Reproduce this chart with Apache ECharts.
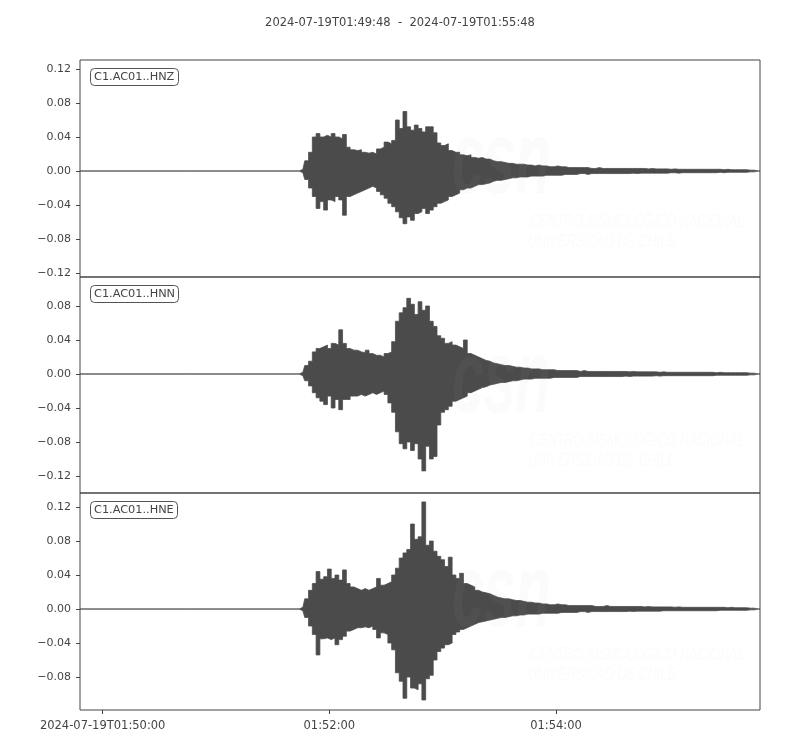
<!DOCTYPE html>
<html><head><meta charset="utf-8">
<script src="https://cdn.jsdelivr.net/npm/echarts@6/dist/echarts.min.js"></script>
<style>html,body{margin:0;padding:0;background:#fff}#c{width:800px;height:750px}</style>
</head><body><div id="c"></div>
<script>
// ---- text / axes ----
const titleText = '2024-07-19T01:49:48  -  2024-07-19T01:55:48';
const channels = ['C1.AC01..HNZ', 'C1.AC01..HNN', 'C1.AC01..HNE'];
const windowSeconds = 360;           // 01:49:48 -> 01:55:48
const binStart = 116, binStep = 2;   // envelope bins (seconds from window start)
const xTickSeconds = [12, 132, 252];
const xTickLabels = ['2024-07-19T01:50:00', '01:52:00', '01:54:00'];
const yTicksHNZ = [-0.12, -0.08, -0.04, 0, 0.04, 0.08, 0.12];
const yTicksHNN = [-0.12, -0.08, -0.04, 0, 0.04, 0.08];
const yTicksHNE = [-0.08, -0.04, 0, 0.04, 0.08, 0.12];
const yRangeHNZ = [-0.1247, 0.1306];
const yRangeHNN = [-0.1400, 0.1141];
const yRangeHNE = [-0.1188, 0.1365];

// ---- waveform envelopes (max / min per 2 s bin) ----
const hnzUpper = [0,
 0.002,0.012,0.022,0.040,0.044,0.040,0.042,0.040,0.044,0.040,0.038,0.043,
 0.028,0.025,0.024,0.025,0.022,0.021,0.022,0.020,0.026,0.028,0.034,0.032,
 0.036,0.060,0.050,0.070,0.052,0.048,0.054,0.050,0.046,0.052,0.052,0.045,
 0.033,0.030,0.032,0.024,0.022,0.022,0.019,0.018,0.019,0.016,0.015,0.016,
 0.014,0.014,0.012,0.011,0.011,0.010,0.009,0.009,0.008,0.008,0.008,0.007,
 0.007,0.006,0.007,0.006,0.006,0.005,0.005,0.006,0.005,0.005,0.004,0.004,
 0.004,0.004,0.004,0.004,0.003,0.003,0.004,0.003,0.003,0.003,0.003,0.003,
 0.003,0.003,0.003,0.003,0.003,0.003,0.003,0.0025,0.003,0.0025,0.0025,0.0025,
 0.0025,0.002,0.0025,0.002,0.002,0.002,0.002,0.002,0.002,0.002,0.002,0.002,
 0.002,0.002,0.002,0.0015,0.002,0.0015,0.0015,0.0015,0.0015,0.0015,0.001,0.001,
 0];
const hnzLower = [0,
 -0.002,-0.010,-0.020,-0.030,-0.044,-0.036,-0.046,-0.034,-0.036,-0.030,-0.034,-0.052,
 -0.030,-0.028,-0.026,-0.024,-0.022,-0.020,-0.018,-0.020,-0.024,-0.028,-0.032,-0.038,
 -0.042,-0.048,-0.055,-0.062,-0.054,-0.058,-0.050,-0.048,-0.044,-0.050,-0.046,-0.042,
 -0.038,-0.036,-0.034,-0.030,-0.028,-0.026,-0.022,-0.020,-0.020,-0.018,-0.016,-0.016,
 -0.015,-0.014,-0.012,-0.011,-0.011,-0.010,-0.009,-0.008,-0.008,-0.007,-0.007,-0.007,
 -0.006,-0.006,-0.006,-0.006,-0.005,-0.005,-0.005,-0.005,-0.005,-0.004,-0.004,-0.004,
 -0.004,-0.003,-0.003,-0.004,-0.003,-0.003,-0.003,-0.003,-0.003,-0.003,-0.003,-0.003,
 -0.003,-0.003,-0.003,-0.0025,-0.003,-0.0025,-0.0025,-0.0025,-0.0025,-0.0025,-0.0025,-0.0025,
 -0.0025,-0.002,-0.002,-0.0025,-0.002,-0.002,-0.002,-0.002,-0.002,-0.002,-0.002,-0.002,
 -0.002,-0.002,-0.0015,-0.002,-0.0015,-0.0015,-0.0015,-0.0015,-0.0015,-0.0015,-0.001,-0.001,
 0];
const hnnUpper = [0,
 0.002,0.010,0.015,0.026,0.030,0.032,0.034,0.030,0.036,0.034,0.052,0.036,
 0.030,0.028,0.028,0.026,0.025,0.028,0.024,0.022,0.022,0.020,0.024,0.026,
 0.038,0.062,0.072,0.078,0.089,0.082,0.070,0.085,0.075,0.080,0.062,0.056,
 0.045,0.042,0.036,0.038,0.034,0.032,0.030,0.040,0.024,0.022,0.020,0.018,
 0.016,0.015,0.013,0.012,0.011,0.010,0.010,0.009,0.008,0.008,0.007,0.007,
 0.006,0.006,0.006,0.005,0.005,0.005,0.005,0.004,0.004,0.004,0.004,0.004,
 0.004,0.003,0.004,0.003,0.003,0.003,0.003,0.003,0.003,0.003,0.003,0.003,
 0.003,0.003,0.0025,0.003,0.0025,0.0025,0.0025,0.0025,0.0025,0.0025,0.002,0.0025,
 0.002,0.002,0.002,0.002,0.002,0.002,0.002,0.002,0.002,0.002,0.002,0.002,
 0.002,0.0015,0.002,0.0015,0.0015,0.0015,0.0015,0.0015,0.0015,0.0015,0.001,0.001,
 0];
const hnnLower = [0,
 -0.002,-0.008,-0.014,-0.022,-0.028,-0.032,-0.036,-0.026,-0.040,-0.030,-0.042,-0.030,
 -0.030,-0.026,-0.026,-0.024,-0.026,-0.024,-0.022,-0.024,-0.022,-0.020,-0.024,-0.034,
 -0.045,-0.068,-0.082,-0.088,-0.080,-0.090,-0.082,-0.100,-0.114,-0.085,-0.100,-0.097,
 -0.060,-0.045,-0.042,-0.038,-0.032,-0.030,-0.028,-0.026,-0.022,-0.020,-0.018,-0.016,
 -0.015,-0.013,-0.012,-0.011,-0.010,-0.010,-0.009,-0.008,-0.008,-0.007,-0.006,-0.006,
 -0.006,-0.005,-0.005,-0.005,-0.005,-0.005,-0.004,-0.004,-0.004,-0.004,-0.004,-0.004,
 -0.004,-0.003,-0.003,-0.003,-0.003,-0.003,-0.003,-0.003,-0.003,-0.003,-0.003,-0.003,
 -0.003,-0.0025,-0.003,-0.0025,-0.0025,-0.0025,-0.0025,-0.0025,-0.0025,-0.002,-0.0025,-0.002,
 -0.002,-0.002,-0.002,-0.002,-0.002,-0.002,-0.002,-0.002,-0.002,-0.002,-0.002,-0.002,
 -0.002,-0.0015,-0.0015,-0.0015,-0.0015,-0.0015,-0.0015,-0.0015,-0.0015,-0.0015,-0.001,-0.001,
 0];
const hneUpper = [0,
 0.002,0.012,0.022,0.030,0.044,0.035,0.038,0.047,0.036,0.040,0.034,0.046,
 0.030,0.026,0.024,0.022,0.024,0.022,0.024,0.026,0.036,0.028,0.030,0.032,
 0.040,0.048,0.060,0.066,0.070,0.100,0.082,0.085,0.126,0.075,0.080,0.068,
 0.062,0.058,0.050,0.061,0.040,0.036,0.042,0.030,0.028,0.026,0.022,0.020,
 0.019,0.018,0.016,0.014,0.013,0.012,0.012,0.011,0.010,0.010,0.009,0.008,
 0.008,0.007,0.007,0.006,0.006,0.005,0.005,0.006,0.005,0.005,0.004,0.004,
 0.004,0.004,0.004,0.004,0.004,0.003,0.003,0.003,0.004,0.003,0.003,0.003,
 0.003,0.003,0.003,0.003,0.003,0.003,0.0025,0.003,0.0025,0.0025,0.0025,0.0025,
 0.0025,0.0025,0.002,0.0025,0.002,0.002,0.002,0.002,0.002,0.002,0.002,0.002,
 0.002,0.002,0.002,0.002,0.0015,0.002,0.0015,0.0015,0.0015,0.0015,0.001,0.001,
 0];
const hneLower = [0,
 -0.002,-0.010,-0.020,-0.030,-0.054,-0.035,-0.034,-0.036,-0.034,-0.042,-0.036,-0.032,
 -0.026,-0.024,-0.022,-0.022,-0.021,-0.022,-0.020,-0.024,-0.034,-0.028,-0.030,-0.040,
 -0.048,-0.075,-0.085,-0.105,-0.080,-0.093,-0.095,-0.088,-0.107,-0.082,-0.078,-0.060,
 -0.050,-0.046,-0.042,-0.040,-0.030,-0.027,-0.024,-0.022,-0.020,-0.018,-0.016,-0.015,
 -0.014,-0.013,-0.012,-0.011,-0.010,-0.010,-0.009,-0.008,-0.008,-0.007,-0.007,-0.006,
 -0.006,-0.006,-0.006,-0.005,-0.005,-0.005,-0.005,-0.005,-0.004,-0.004,-0.004,-0.004,
 -0.004,-0.003,-0.003,-0.004,-0.003,-0.003,-0.003,-0.003,-0.003,-0.003,-0.003,-0.003,
 -0.003,-0.003,-0.0025,-0.003,-0.0025,-0.0025,-0.0025,-0.0025,-0.0025,-0.0025,-0.0025,-0.002,
 -0.002,-0.002,-0.002,-0.002,-0.002,-0.002,-0.002,-0.002,-0.002,-0.002,-0.002,-0.002,
 -0.002,-0.002,-0.0015,-0.0015,-0.0015,-0.0015,-0.0015,-0.0015,-0.0015,-0.0015,-0.001,-0.001,
 0];

// ---- build chart ----
const FONT = 'DejaVu Sans';
const TXT = '#444';
const TRACE = '#4b4b4b';
const traces = [
  {up: hnzUpper, lo: hnzLower, ticks: yTicksHNZ, range: yRangeHNZ},
  {up: hnnUpper, lo: hnnLower, ticks: yTicksHNN, range: yRangeHNN},
  {up: hneUpper, lo: hneLower, ticks: yTicksHNE, range: yRangeHNE}
];
const gridBoxes = [{top: 60, height: 217}, {top: 277, height: 216}, {top: 493, height: 217}];

function toSeries(arr) {
  const pts = [[0, 0]];
  arr.forEach((v, i) => pts.push([binStart + i * binStep, v]));
  pts.push([windowSeconds, 0]);
  return pts;
}
const fmtY = v => (Math.abs(v) < 1e-9 ? 0 : v).toFixed(2).replace('-', '\u2212');

const option = {
  animation: false,
  backgroundColor: '#fff',
  title: [{
    text: titleText, left: 'center', top: 12,
    textStyle: {fontFamily: FONT, fontSize: 11.5, fontWeight: 'normal', color: TXT}
  }].concat(channels.map((c, k) => ({
    text: c, left: 90, top: gridBoxes[k].top + 8,
    borderColor: '#555', borderWidth: 1, borderRadius: 4, padding: [4, 4, 3, 4],
    backgroundColor: '#fff',
    textStyle: {fontFamily: FONT, fontSize: 11.3, fontWeight: 'normal', color: TXT}
  }))),
  grid: gridBoxes.map(g => ({
    left: 80, width: 680, top: g.top, height: g.height, show: true,
    borderColor: '#444', borderWidth: 1, backgroundColor: 'transparent', containLabel: false
  })),
  xAxis: traces.map((t, k) => ({
    type: 'value', gridIndex: k, min: 0, max: windowSeconds, position: 'bottom',
    axisLine: {show: false, onZero: false}, splitLine: {show: false},
    axisTick: k === 2 ? {show: true, length: 4, inside: false, customValues: xTickSeconds,
      lineStyle: {color: '#444', width: 1}} : {show: false},
    axisLabel: k === 2 ? {show: true, customValues: xTickSeconds, margin: 10,
      fontFamily: FONT, fontSize: 11.5, color: TXT,
      formatter: v => xTickLabels[xTickSeconds.indexOf(Math.round(v))]} : {show: false}
  })),
  yAxis: traces.map((t, k) => ({
    type: 'value', gridIndex: k, min: t.range[0], max: t.range[1], position: 'left',
    axisLine: {show: false, onZero: false}, splitLine: {show: false},
    axisTick: {show: true, length: 4, customValues: t.ticks, lineStyle: {color: '#444', width: 1}},
    axisLabel: {show: true, customValues: t.ticks, margin: 9, fontFamily: FONT, fontSize: 11,
      color: TXT, formatter: fmtY}
  })),
  series: [],
  graphic: []
};
traces.forEach((t, k) => {
  [t.up, t.lo].forEach(arr => {
    option.series.push({
      type: 'line', xAxisIndex: k, yAxisIndex: k, data: toSeries(arr),
      symbol: 'none', sampling: 'none', silent: true, z: 2, step: 'middle',
      lineStyle: {color: TRACE, width: 0.8},
      areaStyle: {color: TRACE, opacity: 1, origin: 0}
    });
  });
});
// faint watermark (CSN logo text) in each panel
const wm = 'rgba(175,175,175,0.05)';
gridBoxes.forEach((g, k) => {
  const dy = g.top - 60 + (k === 1 ? 2 : 0);
  option.graphic.push(
    {type: 'text', left: 452, top: 112 + dy, z: 100, silent: true, scaleX: 0.55,
      style: {text: 'csn', font: 'italic bold 104px "Liberation Sans"', fill: wm}},
    {type: 'text', left: 530, top: 213 + dy, z: 100, silent: true, scaleX: 0.7,
      style: {text: 'CENTRO SISMOLÓGICO NACIONAL', font: 'italic 18px "Liberation Sans"', fill: wm}},
    {type: 'text', left: 528, top: 233 + dy, z: 100, silent: true, scaleX: 0.7,
      style: {text: 'UNIVERSIDAD DE CHILE', font: 'italic 18px "Liberation Sans"', fill: wm}}
  );
});
const chart = echarts.init(document.getElementById('c'), null, {renderer: 'canvas'});
chart.setOption(option);
</script></body></html>
